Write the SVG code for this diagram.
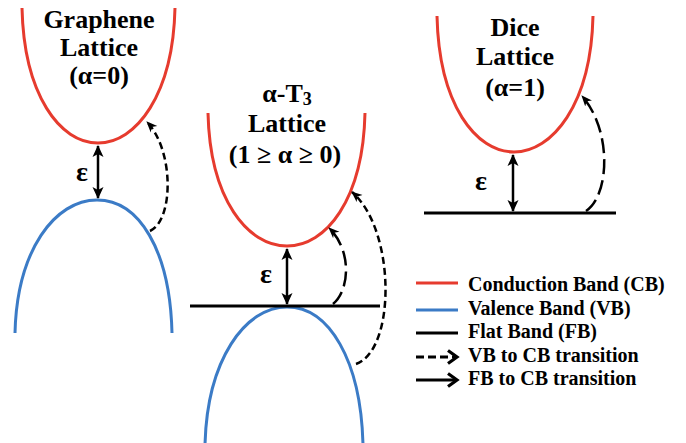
<svg xmlns="http://www.w3.org/2000/svg" width="686" height="443" viewBox="0 0 686 443">
<defs>
<marker id="tri" markerUnits="userSpaceOnUse" viewBox="0 0 12 12" markerWidth="12" markerHeight="12" refX="11" refY="6" orient="auto-start-reverse"><path d="M0,0.5 L12,6 L0,11.5 L3,6 z" fill="#000"/></marker>
<marker id="barb" markerUnits="userSpaceOnUse" viewBox="0 0 12 12" markerWidth="11" markerHeight="11" refX="11" refY="6" orient="auto"><path d="M0,1 L12,6 L0,11 L3.5,6 z" fill="#000"/></marker>
<marker id="chev" markerUnits="userSpaceOnUse" viewBox="0 0 14 16" markerWidth="14" markerHeight="16" refX="11" refY="8" orient="auto"><path d="M2,1.5 L11,8 L2,14.5" fill="none" stroke="#000" stroke-width="3.2" stroke-linejoin="miter"/></marker>
</defs>
<style>
.cb{fill:none;stroke:#e63b2e;stroke-width:3}
.vb{fill:none;stroke:#3b7bc6;stroke-width:3}
.fb{fill:none;stroke:#000;stroke-width:3}
.eps{fill:none;stroke:#000;stroke-width:2.5;marker-start:url(#tri);marker-end:url(#tri)}
.vtr{fill:none;stroke:#000;stroke-width:2.5;stroke-dasharray:7 4;marker-end:url(#barb)}
.ftr{fill:none;stroke:#000;stroke-width:2.5;stroke-dasharray:15 6;marker-end:url(#barb)}
.t{font-family:"Liberation Serif","Times New Roman",serif;font-weight:bold;fill:#000}
.title{font-size:26px;text-anchor:middle}
.e{font-size:28px;text-anchor:middle}
.leg{font-size:20px}
</style>
<rect width="686" height="443" fill="#fff"/>

<g id="graphene">
<path class="cb" d="M22,8 C24,95 60,143 98,143 C136,143 173,95 175,8"/>
<path class="vb" d="M15,333 C17,250 55,200 97,200 C139,200 170,250 172,333"/>
<text class="t title" x="99" y="28">Graphene</text>
<text class="t title" x="99" y="56">Lattice</text>
<text class="t title" x="99" y="84">(α=0)</text>
<text class="t e" x="82" y="181">ε</text>
</g>

<g id="alphaT3">
<path class="cb" d="M208,113 C210,200 248,246 287,246 C326,246 363,200 365,113"/>
<path class="vb" d="M205,445 C207,360 245,307 287,307 C329,307 361,360 363,445"/>
<line class="fb" x1="190" y1="306" x2="380" y2="306"/>
<text class="t title" x="287" y="102">α-T<tspan font-size="18" dy="3">3</tspan></text>
<text class="t title" x="287" y="132">Lattice</text>
<text class="t title" x="285" y="163">(1 ≥ α ≥ 0)</text>
<text class="t e" x="266" y="283">ε</text>
</g>

<g id="dice">
<path class="cb" d="M437,16 C439,105 476,152 514,152 C552,152 591,105 593,16"/>
<line class="fb" x1="424" y1="213" x2="616" y2="213"/>
<text class="t title" x="515" y="36">Dice</text>
<text class="t title" x="515" y="65">Lattice</text>
<text class="t title" x="515" y="96">(α=1)</text>
<text class="t e" x="481" y="190">ε</text>
</g>

<g id="connectors">
<line class="eps" x1="98" y1="146" x2="98" y2="198"/>
<line class="eps" x1="287" y1="249" x2="287" y2="304"/>
<line class="eps" x1="513" y1="155" x2="513" y2="211"/>
<path class="vtr" d="M150,231 C174,220 174,150 147,122"/>
<path class="ftr" d="M333,304 C350,290 352,250 329,228"/>
<path class="vtr" d="M356,364 C396,350 396,230 352,192"/>
<path class="ftr" d="M586,211 C610,195 612,130 582,96"/>
</g>

<g id="legend">
<line class="cb" x1="416" y1="283" x2="458" y2="283"/>
<line class="vb" x1="416" y1="310" x2="458" y2="310"/>
<line class="fb" x1="416" y1="333" x2="458" y2="333"/>
<line x1="416" y1="357" x2="457" y2="357" stroke="#000" stroke-width="3" stroke-dasharray="8 4" marker-end="url(#chev)"/>
<line x1="416" y1="380" x2="457" y2="380" stroke="#000" stroke-width="3" marker-end="url(#chev)"/>
<text class="t leg" x="468" y="291">Conduction Band (CB)</text>
<text class="t leg" x="468" y="315">Valence Band (VB)</text>
<text class="t leg" x="468" y="338">Flat Band (FB)</text>
<text class="t leg" x="468" y="362">VB to CB transition</text>
<text class="t leg" x="468" y="385">FB to CB transition</text>
</g>
</svg>
